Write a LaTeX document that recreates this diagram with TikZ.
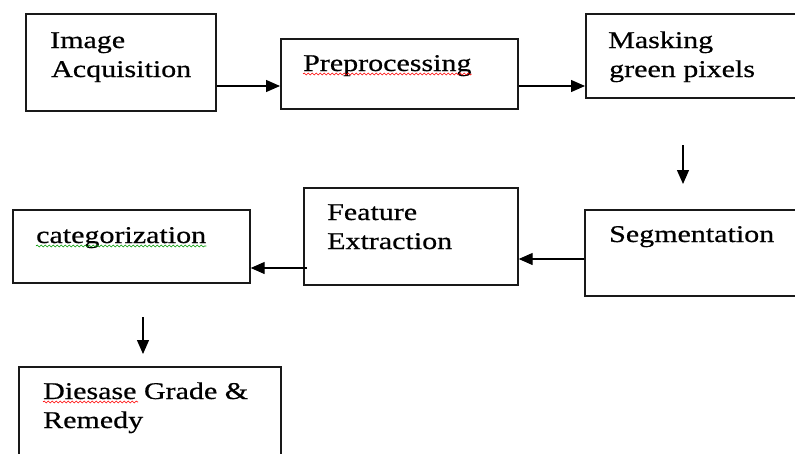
\documentclass[tikz,border=0pt]{standalone}
\usepackage{fontspec}
\setmainfont{Liberation Serif}[FakeStretch=1.25,FakeBold=0.6]
\usetikzlibrary{arrows.meta,decorations.pathmorphing}
\begin{document}
\begin{tikzpicture}[x=1pt,y=-1pt,
  box/.style={draw=black!90,line width=1.7pt,anchor=north west,inner sep=0pt,minimum width=#1},
  lbl/.style={anchor=base west,inner sep=0pt,font=\fontsize{24}{29}\selectfont},
  arr/.style={line width=1.3pt,-{Triangle[length=14pt,width=12pt]}},
  spell/.style={decorate,decoration={snake,amplitude=1pt,segment length=4pt},line width=0.6pt}]
\useasboundingbox (0,0) rectangle (795,453);
\fill[white] (0,0) rectangle (795,453);
\clip (0,0) rectangle (795,453);
% boxes
\node[box=190pt,minimum height=97pt] (b1) at (25,13) {};
\node[box=237pt,minimum height=70pt] (b2) at (280,38) {};
\node[box=230pt,minimum height=84pt] (b3) at (585,13) {};
\node[box=230pt,minimum height=86pt] (b4) at (584,209) {};
\node[box=214pt,minimum height=97pt] (b5) at (303,187) {};
\node[box=237pt,minimum height=73pt] (b6) at (12,209) {};
\node[box=262pt,minimum height=120pt] (b7) at (18,366) {};
% texts
\node[lbl] (t1a) at (50,48) {Image};
\node[lbl] (t1b) at (51,77) {Acquisition};
\node[lbl] (t2) at (303,71) {Preprocessing};
\node[lbl] (t3a) at (608,48) {Masking};
\node[lbl] (t3b) at (609,77) {green pixels};
\node[lbl] (t4) at (609,242) {Segmentation};
\node[lbl] (t5a) at (327,220) {Feature};
\node[lbl] (t5b) at (327,249) {Extraction};
\node[lbl] (t6) at (36,243) {categorization};
\node[lbl] (t7a) at (43,399) {Diesase Grade \&};
\node[lbl] (t7b) at (43,428) {Remedy};
% spell-check underlines
\draw[spell,red] ([yshift=-3pt]t2.base west) -- ([yshift=-3pt]t2.base east);
\draw[spell,green!60!black] ([yshift=-3pt]t6.base west) -- ([yshift=-3pt]t6.base east);
\draw[spell,red] (43,402) -- (138,402);
% connector helpers
\coordinate (y1) at (0,86);
\coordinate (y2) at (0,259);
\coordinate (y3) at (0,268);
\coordinate (d1s) at (683,145);
\coordinate (d1e) at (683,184);
\coordinate (d2s) at (143,317);
\coordinate (d2e) at (143,354);
% connectors
\draw[arr] (b1.east |- y1) -- (b2.west |- y1);
\draw[arr] (b2.east |- y1) -- (b3.west |- y1);
\draw[arr] (d1s) -- (d1e);
\draw[arr] (b4.west |- y2) -- (b5.east |- y2);
\draw[arr] ([xshift=4pt]b5.west |- y3) -- (b6.east |- y3);
\draw[arr] (d2s) -- (d2e);
\end{tikzpicture}
\end{document}
